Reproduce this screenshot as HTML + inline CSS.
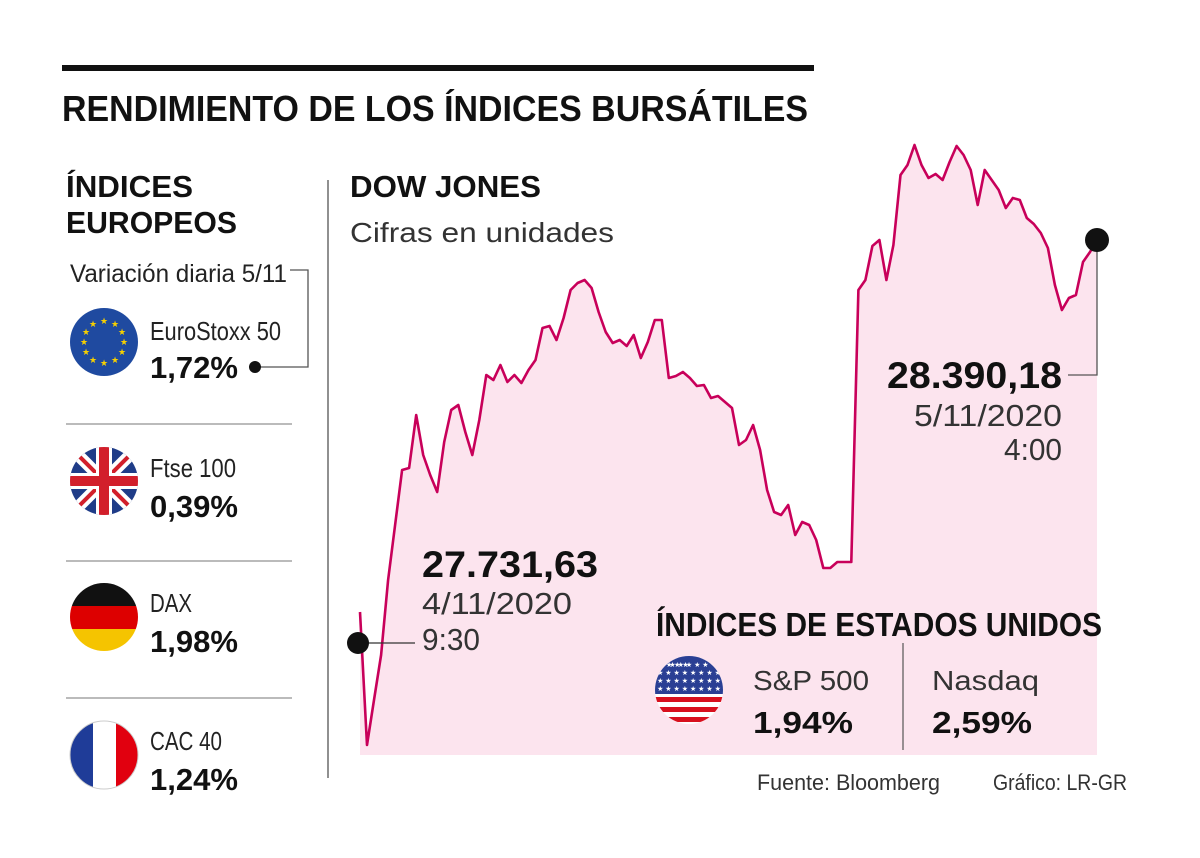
<!DOCTYPE html>
<html><head><meta charset="utf-8"><style>
html,body{margin:0;padding:0;background:#fff}
svg{display:block;font-family:"Liberation Sans",sans-serif}
.b{font-weight:bold}
</style></head><body>
<svg id="chart" width="1200" height="858" viewBox="0 0 1200 858">
<defs>
<clipPath id="c1"><circle cx="104" cy="342" r="34"/></clipPath>
<clipPath id="c2"><circle cx="104" cy="481" r="34"/></clipPath>
<clipPath id="c3"><circle cx="104" cy="617" r="34"/></clipPath>
<clipPath id="c4"><circle cx="104" cy="755" r="34"/></clipPath>
<clipPath id="c5"><circle cx="689" cy="690" r="34"/></clipPath>
</defs>
<rect x="62" y="65" width="752" height="6" fill="#111"/>
<text x="62" y="121" class="b" font-size="36" textLength="746" lengthAdjust="spacingAndGlyphs" fill="#111">RENDIMIENTO DE LOS ÍNDICES BURSÁTILES</text>

<g>
<text x="66" y="197" class="b" font-size="31" textLength="127" lengthAdjust="spacingAndGlyphs" fill="#111">ÍNDICES</text>
<text x="66" y="233" class="b" font-size="31" textLength="171" lengthAdjust="spacingAndGlyphs" fill="#111">EUROPEOS</text>
<text x="70" y="282" font-size="25" textLength="217" lengthAdjust="spacingAndGlyphs" fill="#222">Variación diaria 5/11</text>
<polyline points="290,270 308,270 308,367 258,367" fill="none" stroke="#555" stroke-width="1.3"/>
<circle cx="255" cy="367" r="6" fill="#111"/>
<g clip-path="url(#c1)">
<rect x="70" y="308" width="68" height="68" fill="#1f4aa0"/>
<g fill="#f7d000" font-size="9" text-anchor="middle">
<text x="104" y="324">★</text><text x="115" y="327">★</text><text x="122" y="335">★</text><text x="124" y="345">★</text><text x="122" y="355">★</text><text x="115" y="363">★</text><text x="104" y="366">★</text><text x="93" y="363">★</text><text x="86" y="355">★</text><text x="84" y="345">★</text><text x="86" y="335">★</text><text x="93" y="327">★</text>
</g></g>
<text x="150" y="340" font-size="26" textLength="131" lengthAdjust="spacingAndGlyphs" fill="#222">EuroStoxx 50</text>
<text x="150" y="378" class="b" font-size="31" textLength="88" lengthAdjust="spacingAndGlyphs" fill="#111">1,72%</text>
<line x1="66" y1="424" x2="292" y2="424" stroke="#777" stroke-width="1"/>
<g clip-path="url(#c2)">
<rect x="70" y="447" width="68" height="68" fill="#1f3c88"/>
<line x1="70" y1="447" x2="138" y2="515" stroke="#fff" stroke-width="12"/><line x1="138" y1="447" x2="70" y2="515" stroke="#fff" stroke-width="12"/>
<line x1="70" y1="447" x2="138" y2="515" stroke="#d21f2b" stroke-width="4"/><line x1="138" y1="447" x2="70" y2="515" stroke="#d21f2b" stroke-width="4"/>
<rect x="96" y="447" width="16" height="68" fill="#fff"/><rect x="70" y="473" width="68" height="16" fill="#fff"/>
<rect x="99" y="447" width="10" height="68" fill="#d21f2b"/><rect x="70" y="476" width="68" height="10" fill="#d21f2b"/>
</g>
<text x="150" y="477" font-size="26" textLength="86" lengthAdjust="spacingAndGlyphs" fill="#222">Ftse 100</text>
<text x="150" y="517" class="b" font-size="31" textLength="88" lengthAdjust="spacingAndGlyphs" fill="#111">0,39%</text>
<line x1="66" y1="561" x2="292" y2="561" stroke="#777" stroke-width="1"/>
<g clip-path="url(#c3)">
<rect x="70" y="583" width="68" height="23" fill="#111"/><rect x="70" y="606" width="68" height="23" fill="#dd0000"/><rect x="70" y="629" width="68" height="23" fill="#f5c400"/>
</g>
<text x="150" y="612" font-size="26" textLength="42" lengthAdjust="spacingAndGlyphs" fill="#222">DAX</text>
<text x="150" y="652" class="b" font-size="31" textLength="88" lengthAdjust="spacingAndGlyphs" fill="#111">1,98%</text>
<line x1="66" y1="698" x2="292" y2="698" stroke="#777" stroke-width="1"/>
<g clip-path="url(#c4)">
<rect x="70" y="721" width="23" height="68" fill="#1f3c98"/><rect x="93" y="721" width="23" height="68" fill="#fff"/><rect x="116" y="721" width="23" height="68" fill="#e1000f"/>
</g>
<circle cx="104" cy="755" r="34" fill="none" stroke="#ccc" stroke-width="1"/>
<text x="150" y="750" font-size="26" textLength="72" lengthAdjust="spacingAndGlyphs" fill="#222">CAC 40</text>
<text x="150" y="790" class="b" font-size="31" textLength="88" lengthAdjust="spacingAndGlyphs" fill="#111">1,24%</text>
</g>
<line x1="328" y1="180" x2="328" y2="778" stroke="#555" stroke-width="1.3"/>

<text x="350" y="197" class="b" font-size="31" textLength="191" lengthAdjust="spacingAndGlyphs" fill="#111">DOW JONES</text>
<text x="350" y="242" font-size="28" textLength="264" lengthAdjust="spacingAndGlyphs" fill="#333">Cifras en unidades</text>

<g id="plot"></g>

<g>
<line x1="358" y1="643" x2="415" y2="643" stroke="#333" stroke-width="1.3"/>
<circle cx="358" cy="643" r="11" fill="#111"/>
<text x="422" y="577" class="b" font-size="37" textLength="176" lengthAdjust="spacingAndGlyphs" fill="#111">27.731,63</text>
<text x="422" y="614" font-size="31" textLength="150" lengthAdjust="spacingAndGlyphs" fill="#333">4/11/2020</text>
<text x="422" y="650" font-size="31" textLength="58" lengthAdjust="spacingAndGlyphs" fill="#333">9:30</text>
</g>
<g>
<polyline points="1068,375 1097,375 1097,240" fill="none" stroke="#555" stroke-width="1.3"/>
<circle cx="1097" cy="240" r="12" fill="#111"/>
<text x="1062" y="388" class="b" font-size="37" text-anchor="end" textLength="175" lengthAdjust="spacingAndGlyphs" fill="#111">28.390,18</text>
<text x="1062" y="426" font-size="31" text-anchor="end" textLength="148" lengthAdjust="spacingAndGlyphs" fill="#333">5/11/2020</text>
<text x="1062" y="460" font-size="31" text-anchor="end" textLength="58" lengthAdjust="spacingAndGlyphs" fill="#333">4:00</text>
</g>

<g>
<text x="656" y="636" class="b" font-size="33" textLength="446" lengthAdjust="spacingAndGlyphs" fill="#111">ÍNDICES DE ESTADOS UNIDOS</text>
<g clip-path="url(#c5)">
<rect x="655" y="656" width="68" height="68" fill="#fff"/>
<rect x="655" y="656" width="68" height="38" fill="#2a3f94"/>
<rect x="655" y="697" width="68" height="5" fill="#d8101e"/><rect x="655" y="707" width="68" height="5" fill="#d8101e"/><rect x="655" y="717" width="68" height="5" fill="#d8101e"/>
<g fill="#fff" font-size="7" text-anchor="middle">
<text x="665" y="667">★ ★ ★ ★ ★ ★</text><text x="689" y="667">★ ★ ★ ★ ★</text><text x="689" y="675">★ ★ ★ ★ ★ ★ ★ ★</text><text x="689" y="683">★ ★ ★ ★ ★ ★ ★ ★</text><text x="689" y="691">★ ★ ★ ★ ★ ★ ★ ★</text>
</g></g>
<text x="753" y="690" font-size="28" textLength="116" lengthAdjust="spacingAndGlyphs" fill="#333">S&amp;P 500</text>
<text x="753" y="733" class="b" font-size="31" textLength="100" lengthAdjust="spacingAndGlyphs" fill="#111">1,94%</text>
<line x1="903" y1="643" x2="903" y2="750" stroke="#555" stroke-width="1.2"/>
<text x="932" y="690" font-size="28" textLength="107" lengthAdjust="spacingAndGlyphs" fill="#333">Nasdaq</text>
<text x="932" y="733" class="b" font-size="31" textLength="100" lengthAdjust="spacingAndGlyphs" fill="#111">2,59%</text>
</g>
<text x="757" y="790" font-size="22" textLength="183" lengthAdjust="spacingAndGlyphs" fill="#333">Fuente: Bloomberg</text>
<text x="993" y="790" font-size="22" textLength="134" lengthAdjust="spacingAndGlyphs" fill="#333">Gráfico: LR-GR</text>
</svg>
<script>
const series = [27777.7,27558.7,27632.8,27706.9,27830.4,27920.9,28011.5,28014.8,28102.0,28036.2,
28003.3,27975.3,28057.6,28110.3,28118.5,28074.1,28036.2,28093.8,28167.9,28159.7,
28184.4,28156.4,28167.9,28154.7,28176.1,28192.6,28245.3,28248.6,28225.5,28261.7,
28307.8,28319.4,28324.3,28311.1,28271.6,28238.7,28220.6,28225.5,28215.6,28233.8,
28195.9,28222.2,28258.4,28258.4,28163.0,28166.2,28172.8,28163.0,28149.8,28151.4,
28130.0,28133.3,28123.4,28113.6,28052.6,28060.9,28085.6,28044.4,27978.6,27942.3,
27937.4,27953.9,27904.5,27925.9,27920.9,27896.2,27850.1,27850.1,27860.0,27860.0,
27860.0,28307.8,28324.3,28380.3,28390.2,28324.3,28381.9,28497.2,28513.6,28546.6,
28513.6,28492.2,28498.8,28488.9,28518.6,28544.9,28530.1,28505.4,28447.8,28505.4,
28488.9,28472.5,28442.8,28459.3,28456.0,28426.4,28416.5,28401.7,28377.0,28316.1,
28274.9,28294.7,28299.6,28353.9,28370.4,28390.18];
const startValue = 27731.63;
const endValue = 28390.18;
const NS='http://www.w3.org/2000/svg';
const x0=360,x1=1097,base=755;
function xs(i){return x0+(x1-x0)*i/(series.length-1);}
function ys(v){return 640-(v-startValue)*400/(endValue-startValue);}
const g=document.getElementById('plot');
let d='';
series.forEach((v,i)=>{d+=(i?'L':'M')+xs(i).toFixed(1)+','+ys(v).toFixed(1);});
const area=document.createElementNS(NS,'path');
area.setAttribute('d',d+'L'+x1+','+base+'L'+x0+','+base+'Z');
area.setAttribute('fill','#fce4ee');


g.appendChild(area);
const line=document.createElementNS(NS,'path');
line.setAttribute('d',d);
line.setAttribute('fill','none');
line.setAttribute('stroke','#c8005a');
line.setAttribute('stroke-width','2.6');
line.setAttribute('stroke-linejoin','round');


g.appendChild(line);
</script>
</body></html>
